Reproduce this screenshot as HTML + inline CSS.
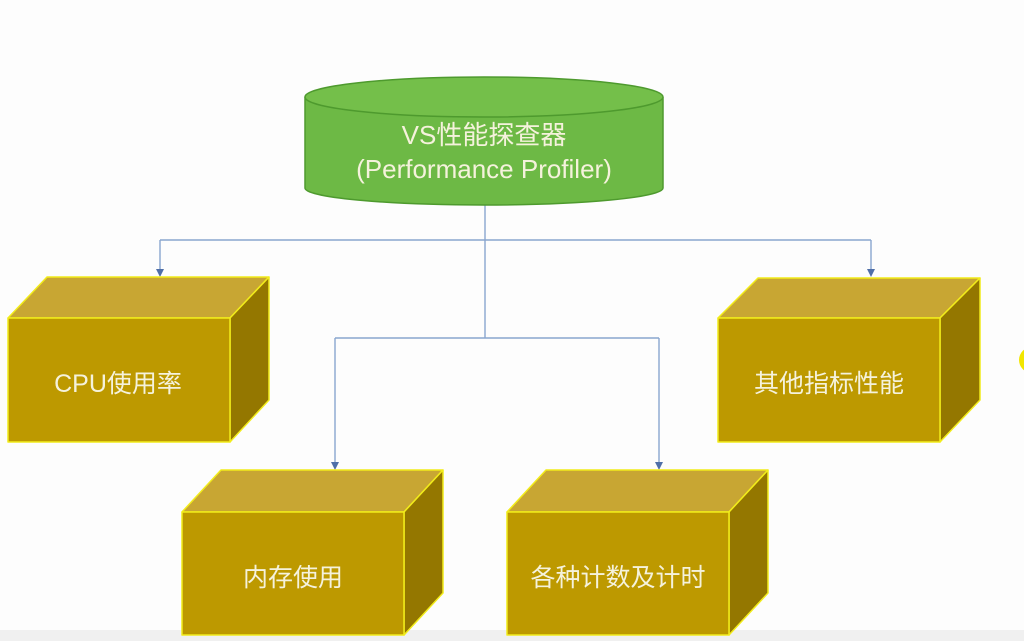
<!DOCTYPE html>
<html><head><meta charset="utf-8"><style>
html,body{margin:0;padding:0;background:#fdfdfd;}
svg{display:block;}
text{font-family:"Liberation Sans","Noto Sans CJK SC",sans-serif;fill:#f5f2dc;}
</style></head><body>
<svg width="1024" height="641" viewBox="0 0 1024 641" xmlns="http://www.w3.org/2000/svg">
<rect x="0" y="630" width="1024" height="11" fill="#f0f0f0"/>
<circle cx="1032" cy="360" r="13" fill="#f2e600"/>
<g stroke="#8aa6cf" stroke-width="1.4" fill="none">
<path d="M485,205 V338"/>
<path d="M160,240 H871"/>
<path d="M160,240 V270"/>
<path d="M871,240 V270"/>
<path d="M335,338 H659"/>
<path d="M335,338 V463"/>
<path d="M659,338 V463"/>
</g>
<g fill="#4f6fa8">
<path d="M156,269 H164 L160,277 Z"/>
<path d="M867,269 H875 L871,277 Z"/>
<path d="M331,462 H339 L335,470 Z"/>
<path d="M655,462 H663 L659,470 Z"/>
</g>
<path d="M305,97 V188 A179,17 0 0 0 663,188 V97" fill="#6db945" stroke="#4e9a2e" stroke-width="1.5"/>
<ellipse cx="484" cy="97" rx="179" ry="20" fill="#74bf4a" stroke="#4e9a2e" stroke-width="1.5"/>
<text x="484" y="144" font-size="26" text-anchor="middle">VS性能探查器</text>
<text x="484" y="178" font-size="26" text-anchor="middle">(Performance Profiler)</text>
<g stroke="#f2ec1a" stroke-width="1.5" stroke-linejoin="round">
<polygon points="8,318 47,277 269,277 230,318" fill="#c8a633"/>
<polygon points="230,318 269,277 269,400 230,442" fill="#947700"/>
<rect x="8" y="318" width="222" height="124" fill="#bd9900"/>
<polygon points="718,318 758,278 980,278 940,318" fill="#c8a633"/>
<polygon points="940,318 980,278 980,400 940,442" fill="#947700"/>
<rect x="718" y="318" width="222" height="124" fill="#bd9900"/>
<polygon points="182,512 221,470 443,470 404,512" fill="#c8a633"/>
<polygon points="404,512 443,470 443,593 404,635" fill="#947700"/>
<rect x="182" y="512" width="222" height="123" fill="#bd9900"/>
<polygon points="507,512 546,470 768,470 729,512" fill="#c8a633"/>
<polygon points="729,512 768,470 768,593 729,635" fill="#947700"/>
<rect x="507" y="512" width="222" height="123" fill="#bd9900"/>
</g>
<text x="118" y="392" font-size="25" text-anchor="middle">CPU使用率</text>
<text x="829" y="392" font-size="25" text-anchor="middle">其他指标性能</text>
<text x="293" y="586" font-size="25" text-anchor="middle">内存使用</text>
<text x="618" y="586" font-size="25" text-anchor="middle">各种计数及计时</text>
</svg>
</body></html>
